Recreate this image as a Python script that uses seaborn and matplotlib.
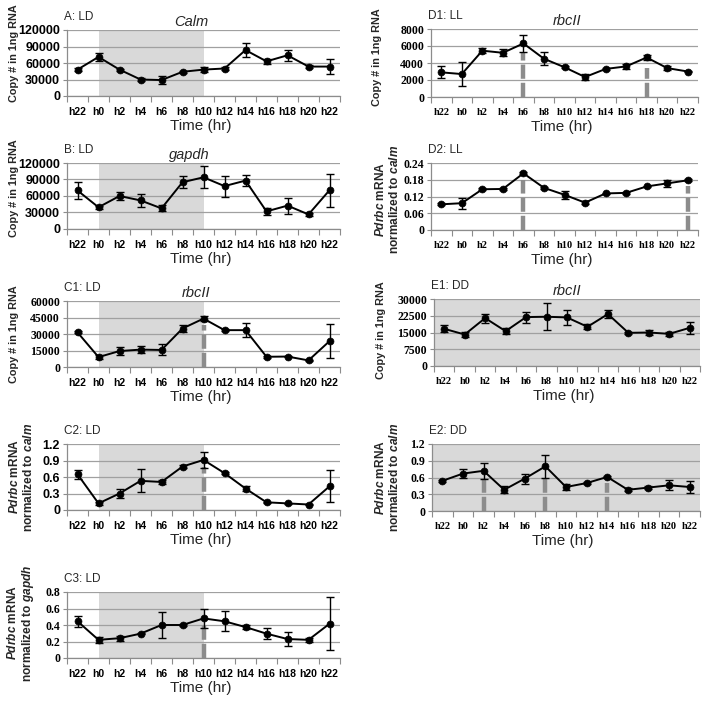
import numpy as np
import pandas as pd
import matplotlib
matplotlib.use("Agg")
import matplotlib.pyplot as plt
import seaborn as sns

# ---------------- data ----------------
hours = ["h22", "h0", "h2", "h4", "h6", "h8", "h10", "h12", "h14", "h16", "h18", "h20", "h22"]

calm_ld = [48000, 71000, 48000, 30000, 29000, 44000, 48000, 50000, 83500, 63000, 74000, 53500, 53500]
calm_ld_err = [3000, 7000, 2000, 3500, 8000, 2000, 5000, 3000, 12000, 5000, 10000, 3000, 14000]

gapdh_ld = [70000, 39500, 60000, 52000, 37500, 85000, 94000, 78000, 88000, 32000, 42500, 26500, 70500]
gapdh_ld_err = [16000, 2500, 7000, 12000, 5500, 10500, 20000, 19000, 10000, 6500, 14500, 2000, 30000]

rbcii_ld = [31500, 9000, 14500, 15800, 15500, 35000, 44000, 33500, 33500, 9300, 9500, 6000, 23500]
rbcii_ld_err = [1000, 2000, 3500, 3500, 5000, 3500, 2000, 800, 6500, 800, 800, 800, 15500]

pdrbc_calm_ld = [0.65, 0.12, 0.30, 0.53, 0.51, 0.79, 0.91, 0.67, 0.39, 0.14, 0.12, 0.10, 0.43]
pdrbc_calm_ld_err = [0.08, 0.03, 0.08, 0.21, 0.03, 0.02, 0.14, 0.02, 0.04, 0.01, 0.01, 0.01, 0.29]

pdrbc_gapdh_ld = [0.445, 0.22, 0.24, 0.295, 0.40, 0.40, 0.48, 0.445, 0.375, 0.295, 0.23, 0.22, 0.415]
pdrbc_gapdh_ld_err = [0.07, 0.04, 0.03, 0.01, 0.16, 0.01, 0.12, 0.12, 0.02, 0.07, 0.09, 0.02, 0.32]

rbcii_ll = [2900, 2700, 5450, 5200, 6300, 4500, 3500, 2350, 3300, 3600, 4650, 3400, 3000]
rbcii_ll_err = [700, 1400, 300, 400, 1000, 750, 100, 350, 100, 250, 300, 250, 100]

pdrbc_calm_ll = [0.092, 0.096, 0.146, 0.147, 0.203, 0.151, 0.126, 0.098, 0.131, 0.133, 0.156, 0.167, 0.178]
pdrbc_calm_ll_err = [0.003, 0.02, 0.003, 0.003, 0.003, 0.003, 0.015, 0.005, 0.003, 0.003, 0.003, 0.012, 0.003]

rbcii_dd = [16650, 14100, 21450, 15600, 21900, 22050, 21750, 17550, 23250, 14850, 15000, 14400, 17100]
rbcii_dd_err = [1500, 1200, 2000, 1200, 2500, 6000, 3200, 1200, 1800, 500, 1200, 800, 2800]

pdrbc_calm_dd = [0.54, 0.67, 0.72, 0.38, 0.58, 0.80, 0.43, 0.50, 0.61, 0.38, 0.42, 0.46, 0.43]
pdrbc_calm_dd_err = [0.02, 0.08, 0.14, 0.06, 0.09, 0.21, 0.05, 0.02, 0.01, 0.03, 0.02, 0.09, 0.10]

# peak markers: (category index, height)
peaks_c1 = [(6, 38000)]
peaks_c2 = [(6, 0.79)]
peaks_c3 = [(6, 0.43)]
peaks_d1 = [(4, 5300), (10, 3400)]
peaks_d2 = [(4, 0.178), (12, 0.158)]
peaks_e2 = [(2, 0.60), (5, 0.65), (8, 0.50)]

# ---------------- style ----------------
sns.set_theme(style="white")
plt.rcParams["font.family"] = ["Liberation Sans", "DejaVu Sans"]
plt.rcParams["mathtext.fontset"] = "custom"
plt.rcParams["mathtext.it"] = "Liberation Sans:italic:bold"
plt.rcParams["mathtext.rm"] = "Liberation Sans:bold"
plt.rcParams["mathtext.bf"] = "Liberation Sans:bold"

W, H = 703, 704
fig = plt.figure(figsize=(W / 100, H / 100), dpi=100)
fig.patch.set_facecolor("white")

copy_lbl = "Copy # in 1ng RNA"
calm_lbl = "$\\mathit{Pdrbc}$ mRNA\nnormalized to $\\mathit{calm}$"
gapdh_lbl = "$\\mathit{Pdrbc}$ mRNA\nnormalized to $\\mathit{gapdh}$"

panels = [
    # label, vals, errs, box(l,r,t,b), ymax, title, ylabel, mode, peaks, yfont, xfont, ylab_x, ylab_shift, title_x
    ("A: LD", calm_ld, calm_ld_err, (67, 340, 30, 96), 120000, "Calm", copy_lbl, "ld", [], "sans", "sans", 14, -10, 191),
    ("B: LD", gapdh_ld, gapdh_ld_err, (67, 340, 163, 229), 120000, "gapdh", copy_lbl, "ld", [], "sans", "sans", 14, -8, 189),
    ("C1: LD", rbcii_ld, rbcii_ld_err, (67, 340, 301, 367), 60000, "rbcII", copy_lbl, "ld", peaks_c1, "serif", "sans", 14, 0, 196),
    ("C2: LD", pdrbc_calm_ld, pdrbc_calm_ld_err, (67, 340, 444, 510), 1.2, None, calm_lbl, "ld", peaks_c2, "sans", "sans", 21, 0, 0),
    ("C3: LD", pdrbc_gapdh_ld, pdrbc_gapdh_ld_err, (67, 340, 592, 658), 0.8, None, gapdh_lbl, "ld", peaks_c3, "serif", "sans", 21, -2, 0),
    ("D1: LL", rbcii_ll, rbcii_ll_err, (431, 698, 29, 97), 8000, "rbcII", copy_lbl, "ll", peaks_d1, "serif", "serif", 377, -6, 567),
    ("D2: LL", pdrbc_calm_ll, pdrbc_calm_ll_err, (431, 698, 163, 230), 0.24, None, calm_lbl, "ll", peaks_d2, "serif", "serif", 387, 3, 0),
    ("E1: DD", rbcii_dd, rbcii_dd_err, (434, 700, 299, 366), 30000, "rbcII", copy_lbl, "dd", [], "serif", "serif", 381, -2, 567),
    ("E2: DD", pdrbc_calm_dd, pdrbc_calm_dd_err, (432, 700, 444, 511), 1.2, None, calm_lbl, "dd", peaks_e2, "serif", "serif", 387, 0, 0),
]

fonts = {"sans": "Liberation Sans", "serif": "Liberation Serif"}
pos = np.arange(len(hours))

for (lab, vals, errs, box, ymax, title, ylabel, mode, peaks,
     yfont, xfont, ylab_x, ylab_shift, title_x) in panels:
    l, r, t, b = box
    ax = fig.add_axes([l / W, 1 - b / H, (r - l) / W, (b - t) / H])
    ax.set_facecolor("#d9d9d9" if mode == "dd" else "white")
    if mode == "ld":
        ax.axvspan(1, 6, color="#d9d9d9", zorder=0, lw=0)

    df = pd.DataFrame({"pos": pos, "val": vals, "err": errs})
    ax.errorbar(df["pos"], df["val"], yerr=df["err"], fmt="none", ecolor="black",
                elinewidth=1.0, capsize=3, capthick=1.0, zorder=4)
    sns.lineplot(data=df, x="pos", y="val", ax=ax, color="black", lw=1.4,
                 marker="o", markersize=5, markeredgecolor="black",
                 markeredgewidth=0.5, zorder=5, legend=False)
    for idx, top in peaks:
        ax.plot([idx, idx], [0, top], color="#8c8c8c", lw=3.2,
                dashes=(3.2, 0.9), solid_capstyle="butt", zorder=3)

    yt = np.linspace(0, ymax, 5)
    ax.set_ylim(0, ymax)
    ax.set_yticks(yt)
    ax.set_yticklabels(["{:g}".format(round(v, 4)) for v in yt],
                       fontfamily=fonts[yfont], fontweight="bold",
                       fontsize=9 if yfont == "sans" else 8.5, color="black")
    ax.set_xlim(-0.5, len(hours) - 0.5)
    ax.set_xticks(pos)
    ax.set_xticklabels(hours, fontfamily=fonts[xfont], fontweight="bold",
                       fontsize=7.5, color="black")
    ax.set_xticks(np.arange(-0.5, len(hours), 1.0), minor=True)
    ax.tick_params(axis="x", which="major", length=0, pad=8)
    ax.tick_params(axis="x", which="minor", length=4, width=0.8,
                   color="#8c8c8c", direction="out", bottom=True)
    ax.tick_params(axis="y", which="major", length=3, width=0.8,
                   color="#8c8c8c", direction="out", left=True, pad=2)
    ax.set_xlabel("")
    ax.set_ylabel("")
    ax.grid(axis="y", color="#a0a0a0", lw=0.9)
    ax.grid(axis="x", visible=False)
    ax.set_axisbelow(True)
    for s in ["top", "right"]:
        ax.spines[s].set_visible(False)
    for s in ["left", "bottom"]:
        ax.spines[s].set_visible(True)
        ax.spines[s].set_color("#8c8c8c")
        ax.spines[s].set_linewidth(0.9)

    # panel label and gene title
    fig.text((l - 3) / W, 1 - (t - 13) / H, lab, fontsize=8.5, ha="left", va="center")
    if title:
        fig.text(title_x / W, 1 - (t - 8) / H, title, fontsize=10.5,
                 style="italic", ha="center", va="center")
    # y label
    ysize = 7.8 if ylabel == copy_lbl else 8.6
    fig.text(ylab_x / W, 1 - ((t + b) / 2 + ylab_shift) / H, ylabel, rotation=90,
             fontsize=ysize, fontweight="bold", ha="center", va="center",
             multialignment="center", linespacing=1.1)
    # x label
    fig.text(((l + r) / 2 - 3) / W, 1 - (b + 30) / H, "Time (hr)",
             fontsize=11, ha="center", va="center")

fig.savefig("out.png", dpi=100, facecolor="white")
